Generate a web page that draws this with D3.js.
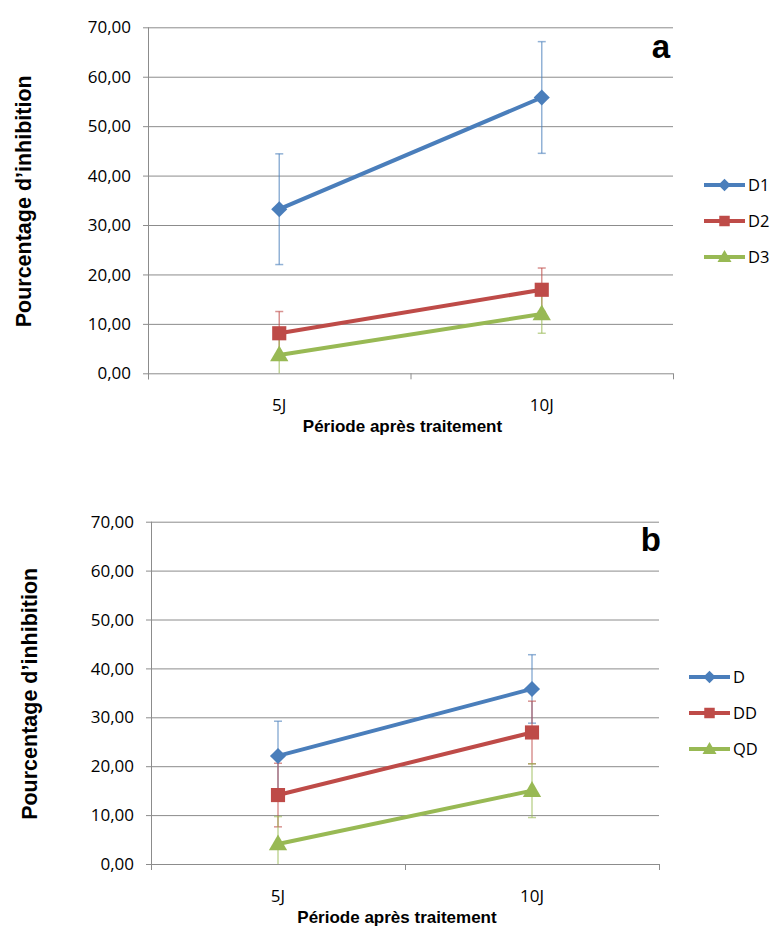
<!DOCTYPE html>
<html>
<head>
<meta charset="utf-8">
<script src="https://cdn.jsdelivr.net/npm/d3@7"></script>
<style>
  html, body { margin: 0; padding: 0; background: #fff; }
  svg { display: block; }
</style>
</head>
<body>
<svg id="chart" width="771" height="926"></svg>
<script>
// ---------- DATA ----------
const categories = ["5J", "10J"];
const yTicks = [0, 10, 20, 30, 40, 50, 60, 70];
const xTitle = "Période après traitement";
const yTitle = "Pourcentage d’inhibition";

const seriesNamesA = ["D1", "D2", "D3"];
const valuesA_D1 = [33.2, 55.8];
const valuesA_D2 = [8.1, 16.9];
const valuesA_D3 = [3.7, 12.0];
const errorsA_D1 = [11.2, 11.3];
const errorsA_D2 = [4.4, 4.4];
const errorsA_D3 = [3.9, 3.9];

const seriesNamesB = ["D", "DD", "QD"];
const valuesB_D = [22.1, 35.8];
const valuesB_DD = [14.1, 26.9];
const valuesB_QD = [4.1, 15.0];
const errorsB_D = [7.1, 7.0];
const errorsB_DD = [6.5, 6.4];
const errorsB_QD = [5.6, 5.5];

// ---------- STYLE ----------
const colors = ["#4A7EBB", "#BE4B48", "#98B954"];
const symbols = [d3.symbolDiamond2, d3.symbolSquare, d3.symbolTriangle];
const tickFont = "'Open Sans', sans-serif";
const titleFont = "'Liberation Sans', Arial, sans-serif";

const svg = d3.select("#chart");
const fmt = v => d3.format(".2f")(v).replace(".", ",");

function drawChart(cfg) {
  const g = svg.append("g");
  const x = d3.scaleBand().domain(categories).range([cfg.left, cfg.right]);
  const y = d3.scaleLinear().domain([0, 70]).range([cfg.bottom, cfg.top]);
  const cx = c => x(c) + x.bandwidth() / 2;

  // gridlines
  g.append("g").selectAll("line").data(yTicks).join("line")
    .attr("x1", cfg.left - 5).attr("x2", cfg.right)
    .attr("y1", d => y(d) + 0.5).attr("y2", d => y(d) + 0.5)
    .attr("stroke", "#8c8c8c").attr("stroke-width", 1);

  // y axis line
  g.append("line")
    .attr("x1", cfg.left + 0.5).attr("x2", cfg.left + 0.5)
    .attr("y1", cfg.top).attr("y2", cfg.bottom + 6)
    .attr("stroke", "#8c8c8c");

  // category ticks (boundaries)
  const bounds = [cfg.left, cfg.left + x.bandwidth(), cfg.right];
  g.append("g").selectAll("line").data(bounds).join("line")
    .attr("x1", d => d + 0.5).attr("x2", d => d + 0.5)
    .attr("y1", cfg.bottom).attr("y2", cfg.bottom + 6)
    .attr("stroke", "#8c8c8c");

  // y tick labels
  g.append("g").selectAll("text").data(yTicks).join("text")
    .attr("x", cfg.left - 17).attr("y", d => y(d))
    .attr("dy", "0.36em")
    .attr("text-anchor", "end")
    .attr("font-family", tickFont).attr("font-size", 17)
    .attr("fill", "#000")
    .text(fmt);

  // category labels
  g.append("g").selectAll("text").data(categories).join("text")
    .attr("x", cx).attr("y", cfg.bottom + cfg.catDy)
    .attr("text-anchor", "middle")
    .attr("font-family", tickFont).attr("font-size", 17)
    .attr("fill", "#000")
    .text(d => d);

  // axis titles
  g.append("text")
    .attr("x", (cfg.left + cfg.right) / 2 - 8).attr("y", cfg.bottom + cfg.xTitleDy)
    .attr("text-anchor", "middle")
    .attr("font-family", titleFont).attr("font-weight", "bold").attr("font-size", 17)
    .attr("fill", "#000")
    .text(xTitle);

  g.append("text")
    .attr("transform", `translate(${cfg.yTitleX},${(cfg.top + cfg.bottom) / 2 + 1}) rotate(-90)`)
    .attr("text-anchor", "middle")
    .attr("font-family", titleFont).attr("font-weight", "bold").attr("font-size", 21.5)
    .attr("fill", "#000")
    .text(yTitle);

  // panel letter
  g.append("text")
    .attr("x", cfg.letterX).attr("y", cfg.letterY)
    .attr("text-anchor", "end")
    .attr("font-family", titleFont).attr("font-weight", "bold").attr("font-size", 33)
    .attr("fill", "#000")
    .text(cfg.letter);

  const series = cfg.names.map((n, i) => ({ name: n, values: cfg.values[i], errors: cfg.errors[i], i }));

  // error bars
  series.forEach(s => {
    const eg = g.append("g").attr("stroke", colors[s.i]).attr("stroke-opacity", 0.6).attr("stroke-width", 1.5);
    categories.forEach((c, k) => {
      const v = s.values[k], e = s.errors[k];
      const hi = v + e, lo = Math.max(0, v - e);
      eg.append("line").attr("x1", cx(c)).attr("x2", cx(c)).attr("y1", y(hi)).attr("y2", y(lo));
      eg.append("line").attr("x1", cx(c) - 4).attr("x2", cx(c) + 4).attr("y1", y(hi)).attr("y2", y(hi));
      if (v - e >= 0) eg.append("line").attr("x1", cx(c) - 4).attr("x2", cx(c) + 4).attr("y1", y(lo)).attr("y2", y(lo));
    });
  });

  // lines
  const line = d3.line().x((d, k) => cx(categories[k])).y(d => y(d));
  series.forEach(s => {
    g.append("path").datum(s.values)
      .attr("d", line).attr("fill", "none")
      .attr("stroke", colors[s.i]).attr("stroke-width", 4).attr("stroke-linecap", "round");
  });

  // markers
  const sizes = [165, 200, 145];
  series.forEach(s => {
    g.append("g").selectAll("path").data(s.values).join("path")
      .attr("transform", (d, k) => `translate(${cx(categories[k])},${y(d) + (s.i === 2 ? 1 : 0)})`)
      .attr("d", d3.symbol().type(symbols[s.i]).size(sizes[s.i]))
      .attr("fill", colors[s.i]);
  });

  // legend
  const lg = g.append("g");
  series.forEach((s, k) => {
    const ly = cfg.legendY + k * 36;
    lg.append("line").attr("x1", cfg.legendX).attr("x2", cfg.legendX + 41)
      .attr("y1", ly).attr("y2", ly)
      .attr("stroke", colors[s.i]).attr("stroke-width", 4);
    lg.append("path")
      .attr("transform", `translate(${cfg.legendX + 20.5},${ly + (s.i === 2 ? 1 : 0)})`)
      .attr("d", d3.symbol().type(symbols[s.i]).size([100, 110, 85][s.i]))
      .attr("fill", colors[s.i]);
    lg.append("text").attr("x", cfg.legendX + 44).attr("y", ly)
      .attr("dy", "0.36em")
      .attr("font-family", tickFont).attr("font-size", 16.5)
      .attr("fill", "#000")
      .text(s.name);
  });
}

drawChart({
  left: 148, right: 673, top: 27.3, bottom: 373.3,
  catDy: 38, xTitleDy: 59, yTitleX: 30.5,
  letter: "a", letterX: 670, letterY: 58,
  legendX: 704, legendY: 185,
  names: seriesNamesA,
  values: [valuesA_D1, valuesA_D2, valuesA_D3],
  errors: [errorsA_D1, errorsA_D2, errorsA_D3]
});

drawChart({
  left: 151, right: 659, top: 521.7, bottom: 864,
  catDy: 38, xTitleDy: 59, yTitleX: 36.5,
  letter: "b", letterX: 661, letterY: 551,
  legendX: 689, legendY: 677,
  names: seriesNamesB,
  values: [valuesB_D, valuesB_DD, valuesB_QD],
  errors: [errorsB_D, errorsB_DD, errorsB_QD]
});
</script>
</body>
</html>
